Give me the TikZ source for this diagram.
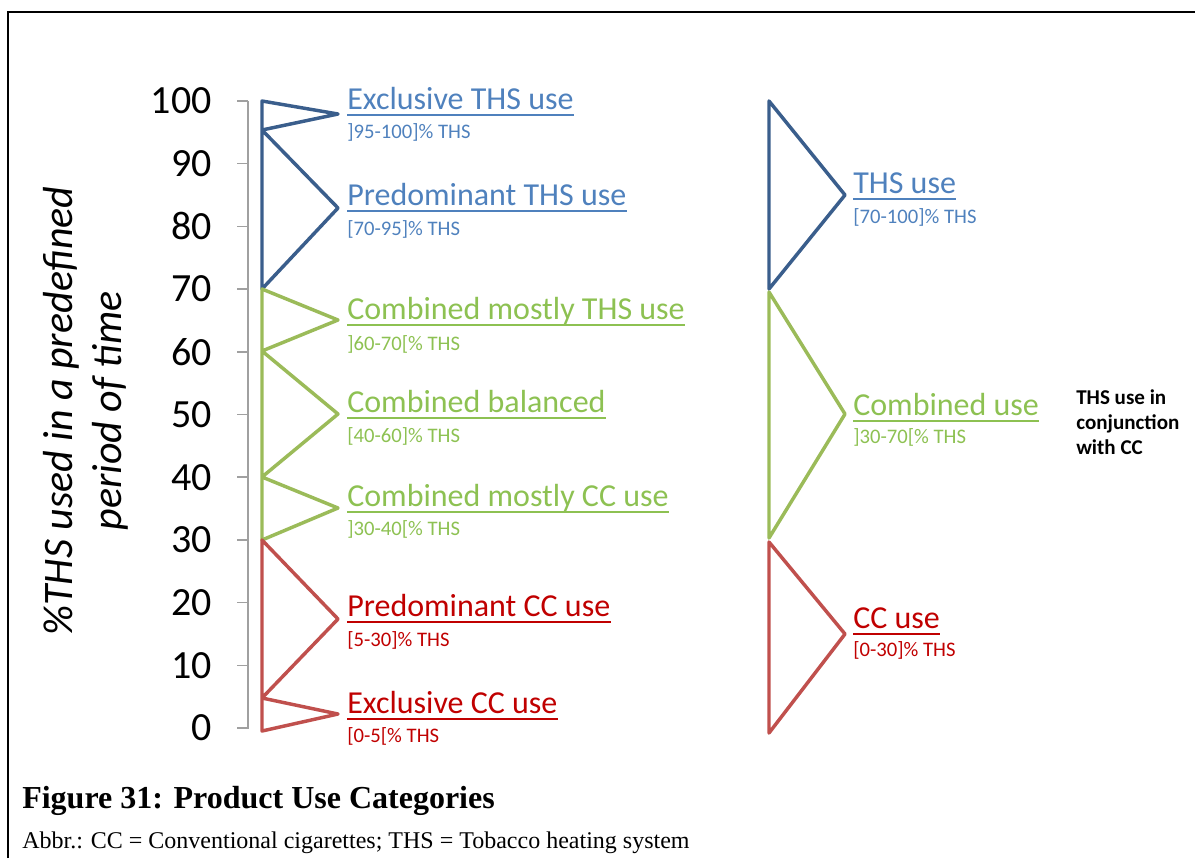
\documentclass[tikz,border=0pt]{standalone}
\usepackage{fontspec}
\setmainfont{Carlito}
\newfontfamily\capfont{Liberation Serif}
\usetikzlibrary{positioning}

\definecolor{thsline}{RGB}{58,94,140}
\definecolor{thstext}{RGB}{79,129,189}
\definecolor{mixline}{RGB}{155,187,89}
\definecolor{mixtext}{RGB}{141,193,82}
\definecolor{ccline}{RGB}{192,80,77}
\definecolor{cctext}{RGB}{192,0,0}
\definecolor{axisgray}{RGB}{160,160,160}

\begin{document}
\begin{tikzpicture}[x=0.75pt,y=-0.75pt,
    band/.style={line width=2.6pt,line join=round},
    axisline/.style={axisgray,line width=1.1pt},
    ticklabel/.style={anchor=east,inner sep=0pt,font=\fontsize{30}{36}\selectfont},
    cattitle/.style={anchor=base west,inner sep=0pt,font=\fontsize{24}{29}\selectfont},
    rangetxt/.style={anchor=base west,inner sep=0pt,font=\fontsize{15.5}{18}\selectfont}]
  \useasboundingbox (0,0) rectangle (1195,858);
  \draw[line width=1.5pt] (8,858) -- (8,12) -- (1195,12);

  % scale
  \foreach \v in {0,10,...,100} {
    \draw[axisline] (237,{728-6.27*\v}) -- (248,{728-6.27*\v});
    \node[ticklabel] (n\v) at (212,{728-6.27*\v}) {\v};
  }
  \draw[axisline] (248,101) -- (248,729);
  \node[rotate=90,align=center,font=\fontsize{31.5}{37}\selectfont\itshape] (ylab) at (86,411)
    {\%THS used in a predefined\\period of time};

  % detailed categories
  \coordinate (b100) at (262,101);
  \coordinate (b95) at (262,130);
  \coordinate (b70) at (262,289);
  \coordinate (b60) at (262,351);
  \coordinate (b40) at (262,477);
  \coordinate (b30) at (262,540);
  \coordinate (b5) at (262,698);
  \coordinate (b0) at (262,731);
  \coordinate (a1) at (338,114);
  \coordinate (a2) at (338,208);
  \coordinate (a3) at (338,320);
  \coordinate (a4) at (338,414);
  \coordinate (a5) at (338,508);
  \coordinate (a6) at (338,619);
  \coordinate (a7) at (338,714);

  \draw[band,thsline] (b100) -- (a1) -- (b95) -- (a2) -- (b70) -- cycle;
  \draw[band,mixline] (b70) -- (a3) -- (b60) -- (a4) -- (b40) -- (a5) -- (b30) -- cycle;
  \draw[band,ccline] (b30) -- (a6) -- (b5) -- (a7) -- (b0) -- cycle;

  \node[cattitle,thstext] (t1) at (347,109) {Exclusive THS use};
  \node[rangetxt,thstext] (r1) at (347,138) {]95-100]\% THS};
  \node[cattitle,thstext] (t2) at (347,205) {Predominant THS use};
  \node[rangetxt,thstext] (r2) at (347,235) {[70-95]\% THS};
  \node[cattitle,mixtext] (t3) at (347,319) {Combined mostly THS use};
  \node[rangetxt,mixtext] (r3) at (347,350) {]60-70[\% THS};
  \node[cattitle,mixtext] (t4) at (347,412) {Combined balanced};
  \node[rangetxt,mixtext] (r4) at (347,442) {[40-60]\% THS};
  \node[cattitle,mixtext] (t5) at (347,506) {Combined mostly CC use};
  \node[rangetxt,mixtext] (r5) at (347,535) {]30-40[\% THS};
  \node[cattitle,cctext] (t6) at (347,616) {Predominant CC use};
  \node[rangetxt,cctext] (r6) at (347,646) {[5-30]\% THS};
  \node[cattitle,cctext] (t7) at (347,713) {Exclusive CC use};
  \node[rangetxt,cctext] (r7) at (347,742) {[0-5[\% THS};

  % grouped categories
  \coordinate (c100) at (769,101);
  \coordinate (c70) at (769,289);
  \coordinate (c70b) at (769,292);
  \coordinate (c30) at (769,538);
  \coordinate (c30b) at (769,542);
  \coordinate (c0) at (769,733);
  \coordinate (g1) at (845,195);
  \coordinate (g2) at (845,414);
  \coordinate (g3) at (845,634);

  \draw[band,thsline] (c100) -- (g1) -- (c70) -- cycle;
  \draw[band,mixline] (c70b) -- (g2) -- (c30) -- cycle;
  \draw[band,ccline] (c30b) -- (g3) -- (c0) -- cycle;

  \node[cattitle,thstext] (u1) at (853,193) {THS use};
  \node[rangetxt,thstext] (s1) at (853,223) {[70-100]\% THS};
  \node[cattitle,mixtext] (u2) at (853,415) {Combined use};
  \node[rangetxt,mixtext] (s2) at (853,443) {]30-70[\% THS};
  \node[cattitle,cctext] (u3) at (853,628) {CC use};
  \node[rangetxt,cctext] (s3) at (853,656) {[0-30]\% THS};

  \foreach \t/\c in {t1/thstext,t2/thstext,t3/mixtext,t4/mixtext,t5/mixtext,t6/cctext,t7/cctext,u1/thstext,u2/mixtext,u3/cctext}
    \draw[\c,line width=1.5pt] ([yshift=-4.5pt]\t.base west) -- ([yshift=-4.5pt]\t.base east);

  \node[anchor=north west,align=left,inner sep=0pt,font=\fontsize{15.8}{18.75}\selectfont\bfseries] (note) at (1076,389)
    {THS use in\\conjunction\\with CC};

  % caption
  \node[anchor=base west,inner sep=0pt,font=\capfont\bfseries\fontsize{24}{29}\selectfont] (fig) at (22,808)
    {Figure 31: Product Use Categories};
  \node[anchor=base west,inner sep=0pt,font=\capfont\fontsize{18}{21}\selectfont] (abbr) at (22,848)
    {Abbr.: CC = Conventional cigarettes; THS = Tobacco heating system};
\end{tikzpicture}
\end{document}
